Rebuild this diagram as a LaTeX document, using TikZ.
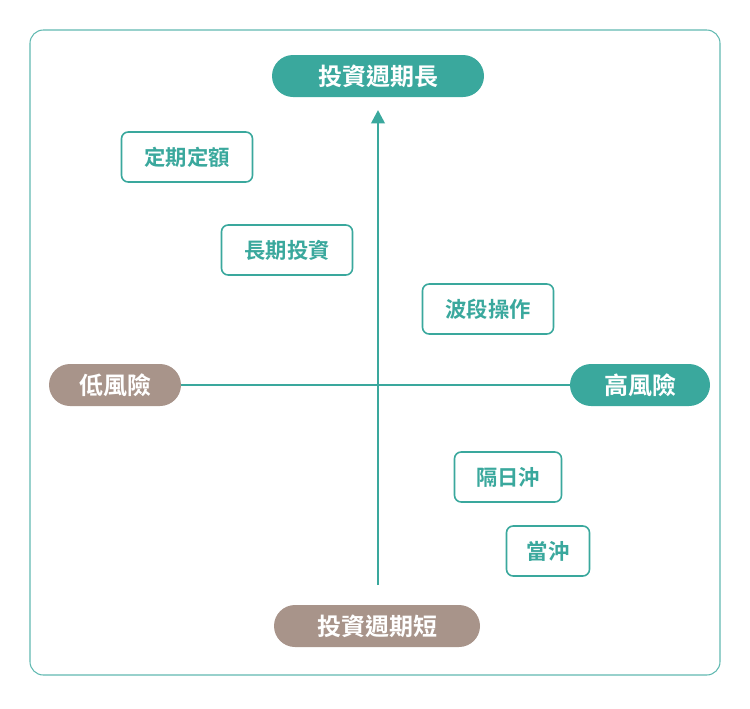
\documentclass[tikz,border=0pt]{standalone}
\usepackage{fontspec}
\setmainfont{Noto Sans CJK TC}[BoldFont={Noto Sans CJK TC Bold}]
\usetikzlibrary{arrows.meta}
\definecolor{teal1}{HTML}{3AA89D}
\definecolor{brown1}{HTML}{A8948A}
\begin{document}
\begin{tikzpicture}[x=0.75pt,y=-0.75pt,>={Triangle[length=10pt,width=10pt]},
  pill/.style={rounded corners=21*0.75pt,minimum height=42*0.75pt,text=white,font=\bfseries\fontsize{18}{20}\selectfont,inner sep=0pt},
  tag/.style={draw=teal1,line width=1.2pt,rounded corners=5pt,fill=white,text=teal1,minimum height=50*0.75pt,font=\bfseries\fontsize{16}{18}\selectfont,inner sep=0pt}]
  % Rahmen
  \useasboundingbox (0,0) rectangle (750,708);
  \draw[teal1!80,line width=0.8pt,rounded corners=10pt] (30,30) rectangle (720,675);

  % Achsen
  \coordinate (ybot) at (378,585);
  \coordinate (ytop) at (378,110);
  \coordinate (xl) at (180,385);
  \coordinate (xr) at (572,385);
  \draw[teal1,line width=2pt] (xl) -- (xr);
  \draw[teal1,line width=2pt,->] (ybot) -- (ytop);

  % Pole
  \node[pill,fill=teal1,minimum width=212*0.75pt] (long) at (378,76) {投資週期長};
  \node[pill,fill=brown1,minimum width=206*0.75pt] (short) at (377,626) {投資週期短};
  \node[pill,fill=brown1,minimum width=132*0.75pt] (low) at (115,385) {低風險};
  \node[pill,fill=teal1,minimum width=140*0.75pt] (high) at (640,385) {高風險};

  % Strategien
  \node[tag,minimum width=131*0.75pt] (dca) at (187,157) {定期定額};
  \node[tag,minimum width=131*0.75pt] (lti) at (287,250) {長期投資};
  \node[tag,minimum width=131*0.75pt] (swing) at (488,309) {波段操作};
  \node[tag,minimum width=107*0.75pt] (overnight) at (508,477) {隔日沖};
  \node[tag,minimum width=83*0.75pt] (day) at (548,551) {當沖};
\end{tikzpicture}
\end{document}
